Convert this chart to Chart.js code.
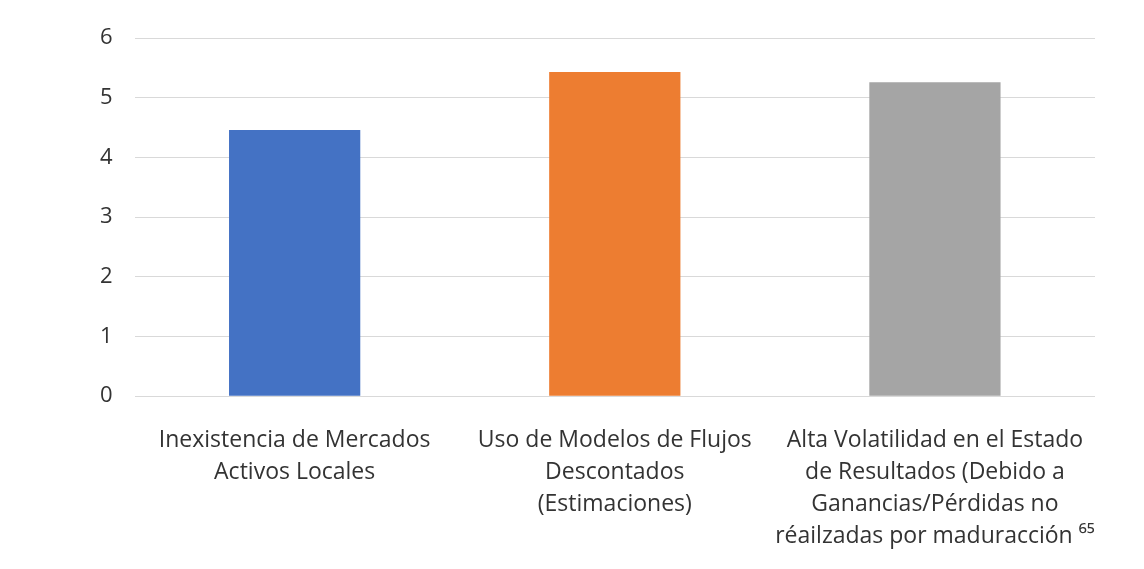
<!DOCTYPE html>
<html>
<head>
<meta charset="utf-8">
<script src="https://cdn.jsdelivr.net/npm/chart.js@4"></script>
<style>
  html, body { margin: 0; padding: 0; background: #fff; }
  #wrap { width: 1144px; height: 569px; }
</style>
</head>
<body>
<div id="wrap"><canvas id="myChart"></canvas></div>
<script>
// data
const categories = [
  ['Inexistencia de Mercados', 'Activos Locales'],
  ['Uso de Modelos de Flujos', 'Descontados', '(Estimaciones)'],
  ['Alta Volatilidad en el Estado', 'de Resultados (Debido a', 'Ganancias/Pérdidas no', 'réailzadas por maduracción \u2076\u2075']
];
const values = [4.46, 5.43, 5.26];
const barColors = ['#4472c4', '#ed7d31', '#a5a5a5'];
const yTicks = [0, 1, 2, 3, 4, 5, 6];

const ctx = document.getElementById('myChart');

new Chart(ctx, {
  type: 'bar',
  data: {
    labels: categories,
    datasets: [{
      data: values,
      backgroundColor: barColors,
      barPercentage: 0.41,
      categoryPercentage: 1
    }]
  },
  options: {
    responsive: true,
    maintainAspectRatio: false,
    animation: false,
    layout: { padding: { top: 38, right: 49, bottom: -4, left: 78 } },
    plugins: { legend: { display: false }, tooltip: { enabled: false } },
    scales: {
      x: {
        grid: { display: false },
        border: { display: false },
        ticks: {
          color: '#333',
          font: { family: 'Open Sans', size: 23, lineHeight: 1.4 },
          maxRotation: 0,
          autoSkip: false,
          padding: 20
        }
      },
      y: {
        min: 0,
        max: 6,
        afterBuildTicks: axis => { axis.ticks = yTicks.map(v => ({ value: v })); },
        grid: { color: '#d9d9d9', drawTicks: false },
        border: { display: false },
        ticks: {
          color: '#333',
          font: { family: 'Open Sans', size: 22 },
          padding: 22
        }
      }
    }
  }
});
</script>
</body>
</html>
